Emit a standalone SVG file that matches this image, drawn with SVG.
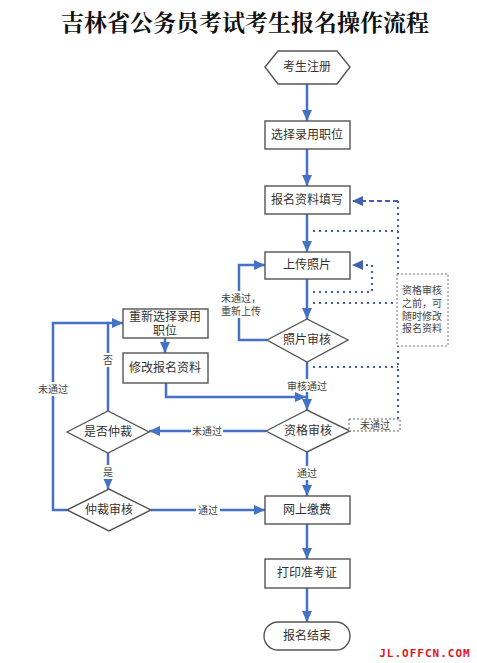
<svg xmlns="http://www.w3.org/2000/svg" width="477" height="663" viewBox="0 0 477 663">
<defs>
<marker id="arr" markerUnits="userSpaceOnUse" markerWidth="12" markerHeight="10" refX="11" refY="5" orient="auto">
<path d="M0,0 L11,5 L0,10 Z" fill="#4472c4"/>
</marker>
<marker id="arrd" markerUnits="userSpaceOnUse" markerWidth="12" markerHeight="10" refX="11" refY="5" orient="auto">
<path d="M0,0 L11,5 L0,10 Z" fill="#3f63b0"/>
</marker>
<style>
.box{fill:#fff;stroke:#555;stroke-width:1.4}
.t{font-family:"Liberation Serif","Noto Sans CJK SC",serif;font-size:12px;fill:#333;text-anchor:middle;dominant-baseline:central}
.s{font-family:"Liberation Serif","Noto Sans CJK SC",serif;font-size:10px;fill:#444;text-anchor:middle;dominant-baseline:central}
.c{fill:none;stroke:#4472c4;stroke-width:2.5}
.ca{fill:none;stroke:#4472c4;stroke-width:2.5;marker-end:url(#arr)}
.dot{fill:none;stroke:#3f5f9f;stroke-width:2;stroke-dasharray:2 4}
.dash{fill:none;stroke:#3f63b0;stroke-width:2;stroke-dasharray:5 3}
.bg{fill:#fff}
</style>
</defs>
<rect width="477" height="663" fill="#fff"/>
<text x="245" y="23" font-family="Liberation Serif,'Noto Serif CJK SC','Noto Sans CJK SC',serif" font-size="23" font-weight="bold" fill="#111" text-anchor="middle" dominant-baseline="central">吉林省公务员考试考生报名操作流程</text>

<g id="connectors">
<path class="ca" d="M307,84 V121"/>
<path class="ca" d="M307,149 V186"/>
<path class="ca" d="M307,214 V252"/>
<path class="ca" d="M307,279 V319"/>
<path class="ca" d="M267,340 H239 V265 H265"/>
<path class="ca" d="M307,362 V410"/>
<path class="ca" d="M166,383 V397 H306"/>
<path class="ca" d="M266,431 H149"/>
<path class="ca" d="M108,411 V323 H123"/>
<path class="ca" d="M165,338 V353"/>
<path class="ca" d="M108,453 V489"/>
<path class="c" d="M67,510 H53 V323 H108"/>
<path class="ca" d="M151,510 H265"/>
<path class="ca" d="M307,452 V496"/>
<path class="ca" d="M307,524 V559"/>
<path class="ca" d="M307,588 V622"/>
<path class="dash" d="M398,201 H352" marker-end="url(#arrd)"/>
<path class="dot" d="M398,201 V430"/>
<path class="dot" d="M313,231 H398"/>
<path class="dot" d="M313,292 H372 V265 H352" marker-end="url(#arrd)"/>
<path class="dot" d="M313,303 H398"/>
<path class="dot" d="M313,367 H398"/>
<rect x="287" y="379" width="40" height="13" class="bg"/>
<text class="s" x="307" y="386">审核通过</text>
<rect x="191" y="425" width="32" height="13" class="bg"/>
<text class="s" x="207" y="431">未通过</text>
<rect x="101" y="353" width="14" height="14" class="bg"/>
<text class="s" x="108" y="360">否</text>
<rect x="101" y="465" width="14" height="14" class="bg"/>
<text class="s" x="108" y="472">是</text>
<rect x="37" y="382" width="32" height="14" class="bg"/>
<text class="s" x="53" y="389">未通过</text>
<rect x="196" y="503" width="24" height="14" class="bg"/>
<text class="s" x="208" y="510">通过</text>
<rect x="295" y="466" width="24" height="14" class="bg"/>
<text class="s" x="307" y="473">通过</text>
<rect x="221" y="291" width="40" height="27" class="bg"/>
<text class="s" x="241" y="298">未通过，</text>
<text class="s" x="241" y="311">重新上传</text>
</g>

<g id="start">
<polygon class="box" points="265,67 278,51 337,51 350,67 337,84 278,84"/>
<text class="t" x="307" y="67">考生注册</text>
</g>
<g id="select">
<rect class="box" x="265" y="121" width="85" height="28"/>
<text class="t" x="307" y="135">选择录用职位</text>
</g>
<g id="fill">
<rect class="box" x="265" y="186" width="85" height="28"/>
<text class="t" x="307" y="200">报名资料填写</text>
</g>
<g id="upload">
<rect class="box" x="265" y="252" width="85" height="27"/>
<text class="t" x="307" y="265">上传照片</text>
</g>
<g id="photo-check">
<polygon class="box" points="267,340 307,319 348,340 307,362"/>
<text class="t" x="307" y="340">照片审核</text>
</g>
<g id="qual-check">
<polygon class="box" points="266,431 307,410 350,431 307,452"/>
<text class="t" x="308" y="431">资格审核</text>
</g>
<g id="fail-note">
<rect x="349" y="419" width="51" height="12" fill="#fff" stroke="#666" stroke-width="1" stroke-dasharray="2 2"/>
<text class="s" x="375" y="425">未通过</text>
</g>
<g id="note">
<rect x="397" y="274" width="51" height="72" fill="#fff" stroke="#777" stroke-width="1" stroke-dasharray="2 2"/>
<text class="s" x="422" y="290">资格审核</text>
<text class="s" x="422" y="303">之前，可</text>
<text class="s" x="422" y="316">随时修改</text>
<text class="s" x="422" y="328">报名资料</text>
</g>
<g id="reselect">
<rect class="box" x="123" y="309" width="85" height="29"/>
<text class="t" x="165" y="317">重新选择录用</text>
<text class="t" x="165" y="331">职位</text>
</g>
<g id="modify">
<rect class="box" x="123" y="353" width="85" height="30"/>
<text class="t" x="165" y="368">修改报名资料</text>
</g>
<g id="arbitrate-q">
<polygon class="box" points="67,432 108,411 149,432 108,453"/>
<text class="t" x="108" y="432">是否仲裁</text>
</g>
<g id="arbitrate-check">
<polygon class="box" points="67,510 109,489 151,510 109,531"/>
<text class="t" x="109" y="510">仲裁审核</text>
</g>
<g id="pay">
<rect class="box" x="265" y="496" width="85" height="28"/>
<text class="t" x="307" y="510">网上缴费</text>
</g>
<g id="print">
<rect class="box" x="265" y="559" width="85" height="29"/>
<text class="t" x="307" y="573">打印准考证</text>
</g>
<g id="end">
<rect class="box" x="264" y="622" width="86" height="28" rx="14"/>
<text class="t" x="307" y="636">报名结束</text>
</g>
<text x="425" y="653" font-family="'DejaVu Sans Mono',monospace" font-size="11" font-weight="bold" fill="#e0141e" text-anchor="middle" dominant-baseline="central" letter-spacing="1">JL.OFFCN.COM</text>
</svg>
